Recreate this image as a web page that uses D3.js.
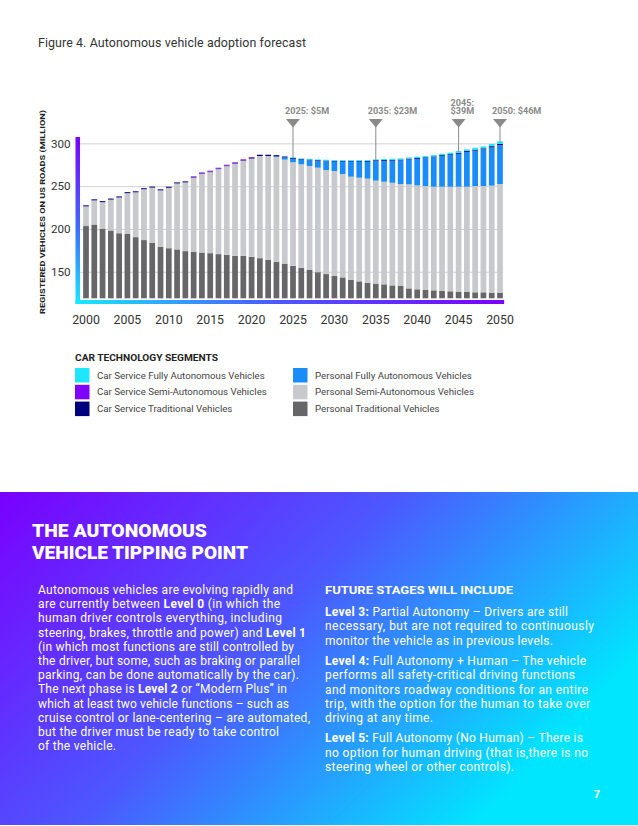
<!DOCTYPE html>
<html>
<head>
<meta charset="utf-8">
<script src="https://cdn.jsdelivr.net/npm/d3@7"></script>
<style>
body { margin: 0; background: #fff; }
svg { display: block; font-family: Roboto, "Open Sans", sans-serif; }
</style>
</head>
<body>
<div id="graphArea"></div>
<script>
var years = [2000, 2001, 2002, 2003, 2004, 2005, 2006, 2007, 2008, 2009,
  2010, 2011, 2012, 2013, 2014, 2015, 2016, 2017, 2018, 2019,
  2020, 2021, 2022, 2023, 2024, 2025, 2026, 2027, 2028, 2029,
  2030, 2031, 2032, 2033, 2034, 2035, 2036, 2037, 2038, 2039,
  2040, 2041, 2042, 2043, 2044, 2045, 2046, 2047, 2048, 2049, 2050]

// millions of vehicles
var personalTrad = [203.4, 205.2, 200.3, 198.2, 195.0, 194.5, 190.4, 187.0, 184.0, 179.1,
  177.5, 176.1, 174.1, 173.3, 172.5, 171.7, 170.6, 169.8, 168.6, 168.6,
  167.4, 165.9, 163.9, 161.5, 159.5, 156.8, 154.6, 152.5, 149.5, 147.3,
  145.4, 143.4, 140.7, 138.8, 137.2, 136.1, 135.3, 134.1, 133.4, 130.6,
  129.5, 128.7, 128.3, 127.5, 127.2, 126.8, 126.4, 126.0, 126.0, 125.6, 125.6]
var personalSemi = [23.0, 28.2, 31.0, 36.1, 41.8, 47.3, 52.4, 59.4, 64.3, 66.0,
  70.6, 77.1, 80.3, 86.5, 91.9, 94.7, 99.3, 103.6, 107.6, 111.1,
  114.8, 119.3, 121.3, 122.7, 121.5, 121.2, 120.9, 121.1, 122.1, 121.6,
  122.3, 120.8, 120.4, 121.1, 121.6, 120.4, 119.9, 119.9, 119.1, 121.5,
  121.4, 121.5, 121.1, 121.9, 122.2, 122.6, 123.0, 124.2, 124.2, 125.0, 126.9]
var personalFull = [0, 0, 0, 0, 0, 0, 0, 0, 0, 0,
  0, 0, 0, 0, 0, 0, 0, 0, 0, 0,
  0, 0, 0, 0.5, 2.5, 3.8, 5.3, 6.7, 8.0, 10.2,
  11.0, 14.5, 17.6, 18.8, 19.7, 22.8, 24.3, 25.8, 27.6, 29.1,
  31.0, 32.5, 34.3, 35.8, 36.9, 38.4, 40.4, 41.3, 42.8, 44.6, 45.3]
var serviceTrad = [1.2, 1.2, 1.2, 1.2, 1.2, 1.2, 1.2, 1.2, 1.2, 1.2,
  1.2, 1.2, 1.2, 0.6, 0.6, 0.6, 0.6, 0.6, 0.6, 0.6,
  1.2, 1.5, 1.5, 1.5, 1.2, 1.0, 0.8, 0.8, 0.8, 0.8,
  0.8, 0.8, 0.8, 0.8, 1.0, 1.0, 1.0, 1.0, 1.0, 1.0,
  1.0, 1.0, 1.0, 1.0, 1.0, 1.2, 1.2, 1.2, 1.2, 1.5, 1.5]
var serviceSemi = [0, 0, 0, 0, 0, 0, 0, 0, 0, 0,
  0, 0, 0, 1.0, 1.0, 1.0, 1.0, 1.0, 1.0, 1.0,
  0.6, 0, 0, 0, 0, 0, 0, 0, 0, 0,
  0, 0, 0, 0, 0, 0, 0, 0, 0, 0,
  0, 0, 0, 0, 0, 0, 0, 0, 0, 0, 0]
var serviceFull = [0, 0, 0, 0, 0, 0, 0, 0, 0, 0,
  0, 0, 0, 0, 0, 0, 0, 0, 0, 0,
  0, 0, 0, 0, 0.3, 0.8, 0.8, 0.9, 0.9, 1.0,
  1.0, 1.0, 1.0, 1.0, 1.0, 1.0, 1.2, 1.2, 1.3, 1.4,
  1.5, 1.5, 1.6, 1.7, 1.8, 2.0, 2.0, 2.2, 2.3, 2.5, 3.0]

var xTicks = [2000, 2005, 2010, 2015, 2020, 2025, 2030, 2035, 2040, 2045, 2050]
var yTicks = [150, 200, 250, 300]

var calloutYears = [2025, 2035, 2045, 2050]
var calloutLabels = [["2025: $5M"], ["2035: $23M"], ["2045:", "$39M"], ["2050: $46M"]]

var keys = ["personalTrad", "personalSemi", "personalFull", "serviceTrad", "serviceSemi", "serviceFull"]
var colors = {
  personalTrad: "#666668",
  personalSemi: "#c8c9cd",
  personalFull: "#198cfa",
  serviceTrad: "#00007e",
  serviceSemi: "#7f00ff",
  serviceFull: "#1ee6fb"
}
var legendCols = [
  [["serviceFull", "Car Service Fully Autonomous Vehicles"],
   ["serviceSemi", "Car Service Semi-Autonomous Vehicles"],
   ["serviceTrad", "Car Service Traditional Vehicles"]],
  [["personalFull", "Personal Fully Autonomous Vehicles"],
   ["personalSemi", "Personal Semi-Autonomous Vehicles"],
   ["personalTrad", "Personal Traditional Vehicles"]]
]

var leftText = [
  "Autonomous vehicles are evolving rapidly and",
  "are currently between *Level 0* (in which the",
  "human driver controls everything, including",
  "steering, brakes, throttle and power) and *Level 1*",
  "(in which most functions are still controlled by",
  "the driver, but some, such as braking or parallel",
  "parking, can be done automatically by the car).",
  "The next phase is *Level 2* or \u201cModern Plus\u201d in",
  "which at least two vehicle functions \u2013 such as",
  "cruise control or lane-centering \u2013 are automated,",
  "but the driver must be ready to take control",
  "of the vehicle."
]
var rightText = [
  ["*Level 3:* Partial Autonomy \u2013 Drivers are still",
   "necessary, but are not required to continuously",
   "monitor the vehicle as in previous levels."],
  ["*Level 4:* Full Autonomy + Human \u2013 The vehicle",
   "performs all safety-critical driving functions",
   "and monitors roadway conditions for an entire",
   "trip, with the option for the human to take over",
   "driving at any time."],
  ["*Level 5:* Full Autonomy (No Human) \u2013 There is",
   "no option for human driving (that is,there is no",
   "steering wheel or other controls)."]
]
// measured line widths (px) for the two text columns
var leftWidths = [255, 242, 244, 268, 256, 262, 261, 249, 251, 272, 241, 78]
var rightWidths = [[243, 269, 228], [261, 250, 263, 265, 108], [258, 263, 189]]

var width = 638
var height = 826

var svg = d3.select("#graphArea")
  .append("svg")
  .attr("width", width)
  .attr("height", height)

var defs = svg.append("defs")
var vg = defs.append("linearGradient").attr("id", "vAxis")
  .attr("x1", 0).attr("y1", 0).attr("x2", 0).attr("y2", 1)
vg.append("stop").attr("offset", 0).attr("stop-color", "#7b00ff")
vg.append("stop").attr("offset", 0.55).attr("stop-color", "#3d6cff")
vg.append("stop").attr("offset", 1).attr("stop-color", "#18e8ff")
var hg = defs.append("linearGradient").attr("id", "hAxis")
  .attr("x1", 0).attr("y1", 0).attr("x2", 1).attr("y2", 0)
hg.append("stop").attr("offset", 0).attr("stop-color", "#18e8ff")
hg.append("stop").attr("offset", 0.45).attr("stop-color", "#4a5cff")
hg.append("stop").attr("offset", 1).attr("stop-color", "#7b00ff")
var pg = defs.append("linearGradient").attr("id", "panel")
  .attr("x1", 0).attr("y1", 0).attr("x2", 1).attr("y2", 0.5)
pg.append("stop").attr("offset", 0).attr("stop-color", "#7a00ff")
pg.append("stop").attr("offset", 0.5).attr("stop-color", "#4c58ff")
pg.append("stop").attr("offset", 1).attr("stop-color", "#00e6ff")

svg.append("text")
  .attr("x", 38).attr("y", 47)
  .attr("font-size", 12.4)
  .attr("fill", "#333")
  .attr("textLength", 268)
  .attr("lengthAdjust", "spacing")
  .text("Figure 4. Autonomous vehicle adoption forecast")

var rows = years.map(function(yr, i) {
  return {
    year: yr,
    personalTrad: personalTrad[i],
    personalSemi: personalSemi[i],
    personalFull: personalFull[i],
    serviceTrad: serviceTrad[i],
    serviceSemi: serviceSemi[i],
    serviceFull: serviceFull[i]
  }
})
var series = d3.stack().keys(keys)(rows)

var step = 8.28
var x = d3.scaleBand()
  .domain(years)
  .range([86 - step / 2, 500 + step / 2])
  .paddingInner(0.31)
  .paddingOuter(0.155)

var y = d3.scaleLinear()
  .domain([119, 310])
  .range([298.3, 134.8])
  .clamp(true)

// gridlines + y labels
var yAxis = svg.append("g")
  .attr("transform", "translate(80,0)")
  .call(d3.axisLeft(y).tickValues(yTicks).tickSize(-423).tickPadding(9.5))
yAxis.select(".domain").remove()
yAxis.selectAll("line").attr("stroke", "#d0d0d0")
yAxis.selectAll("text")
  .attr("font-size", 11.6)
  .attr("font-family", "Roboto, sans-serif")
  .attr("fill", "#333")

svg.append("g")
  .selectAll("g")
  .data(series)
  .enter()
  .append("g")
    .attr("fill", function(d) { return colors[d.key] })
  .selectAll("rect")
  .data(function(d) { return d })
  .enter()
  .append("rect")
    .attr("x", function(d) { return x(d.data.year) })
    .attr("width", x.bandwidth())
    .attr("y", function(d) { return y(d[1]) })
    .attr("height", function(d) { return Math.max(0, y(d[0]) - y(d[1])) })

// gradient axis frame
svg.append("rect")
  .attr("x", 75.5).attr("y", 137)
  .attr("width", 4.5).attr("height", 167)
  .attr("fill", "url(#vAxis)")
svg.append("rect")
  .attr("x", 75.5).attr("y", 300)
  .attr("width", x.range()[1] - 75.5).attr("height", 4)
  .attr("fill", "url(#hAxis)")

var xAxis = svg.append("g")
  .attr("transform", "translate(0,304)")
  .call(d3.axisBottom(x).tickValues(xTicks).tickSize(0).tickPadding(11.5))
xAxis.select(".domain").remove()
xAxis.selectAll("text")
  .attr("font-size", 12.3)
  .attr("font-family", "Roboto, sans-serif")
  .attr("fill", "#333")

svg.append("text")
  .attr("transform", "translate(45,212)rotate(-90)")
  .attr("text-anchor", "middle")
  .attr("font-size", 7.8)
  .attr("font-weight", "bold")
  .attr("fill", "#222")
  .attr("textLength", 204)
  .attr("lengthAdjust", "spacingAndGlyphs")
  .text("REGISTERED VEHICLES ON US ROADS (MILLION)")

// callouts
var totals = {}
rows.forEach(function(r) {
  totals[r.year] = keys.reduce(function(s, k) { return s + r[k] }, 0)
})
var call = svg.append("g")
  .selectAll("g")
  .data(calloutYears)
  .enter()
  .append("g")
    .attr("transform", function(d) { return "translate(" + (x(d) + x.bandwidth() / 2) + ",0)" })
call.append("line")
  .attr("y1", 126).attr("y2", function(d) { return y(totals[d]) + 1 })
  .attr("stroke", "#8a8a8a")
call.append("path")
  .attr("d", "M-7,119L7,119L0,127.5Z")
  .attr("fill", "#8a8a8a")
call.append("text")
  .attr("x", -8)
  .attr("font-size", 9.1)
  .attr("font-weight", "bold")
  .attr("fill", "#8a8a8a")
  .selectAll("tspan")
  .data(function(d, i) { return calloutLabels[i].map(function(t, j, a) { return [t, j, a.length] }) })
  .enter()
  .append("tspan")
    .attr("x", -8)
    .attr("y", function(d) { return 114 - (d[2] - 1 - d[1]) * 8.5 })
    .text(function(d) { return d[0] })

// legend
svg.append("text")
  .attr("x", 75).attr("y", 361)
  .attr("font-size", 8.6)
  .attr("font-weight", "bold")
  .attr("fill", "#222")
  .attr("textLength", 143)
  .attr("lengthAdjust", "spacingAndGlyphs")
  .text("CAR TECHNOLOGY SEGMENTS")

legendCols.forEach(function(col, c) {
  var g = svg.append("g").attr("transform", "translate(" + (c == 0 ? 75 : 293) + ",368)")
  var item = g.selectAll("g")
    .data(col)
    .enter()
    .append("g")
      .attr("transform", function(d, i) { return "translate(0," + (i * 16.8) + ")" })
  item.append("rect")
    .attr("width", 14.5).attr("height", 14.5)
    .attr("fill", function(d) { return colors[d[0]] })
  item.append("text")
    .attr("x", 22).attr("y", 10.5)
    .attr("font-size", 9.7)
    .attr("fill", "#444")
    .text(function(d) { return d[1] })
})

// bottom panel
svg.append("rect")
  .attr("x", 0).attr("y", 492)
  .attr("width", width).attr("height", 333)
  .attr("fill", "url(#panel)")

svg.append("text")
  .attr("x", 32).attr("y", 536.5)
  .attr("font-size", 18.8)
  .attr("font-weight", 900)
  .attr("fill", "#fff")
  .attr("textLength", 175)
  .attr("lengthAdjust", "spacingAndGlyphs")
  .text("THE AUTONOMOUS")
svg.append("text")
  .attr("x", 32).attr("y", 558.5)
  .attr("font-size", 18.8)
  .attr("font-weight", 900)
  .attr("fill", "#fff")
  .attr("textLength", 216)
  .attr("lengthAdjust", "spacingAndGlyphs")
  .text("VEHICLE TIPPING POINT")

function richLine(sel, str) {
  str.split("*").forEach(function(part, i) {
    if(part == "") return
    sel.append("tspan")
      .attr("font-weight", i % 2 == 1 ? "bold" : "normal")
      .text(part)
  })
}

leftText.forEach(function(line, i) {
  var t = svg.append("text")
    .attr("x", 38).attr("y", 594 + i * 14.2)
    .attr("font-size", 12)
    .attr("fill", "#fff")
    .attr("textLength", leftWidths[i])
    .attr("lengthAdjust", "spacing")
  richLine(t, line)
})

svg.append("text")
  .attr("x", 325).attr("y", 594)
  .attr("font-size", 10.6)
  .attr("font-weight", "bold")
  .attr("fill", "#fff")
  .attr("textLength", 188)
  .attr("lengthAdjust", "spacingAndGlyphs")
  .text("FUTURE STAGES WILL INCLUDE")

var ry = 616
rightText.forEach(function(para, p) {
  para.forEach(function(line, i) {
    var t = svg.append("text")
      .attr("x", 325).attr("y", ry)
      .attr("font-size", 12)
      .attr("fill", "#fff")
      .attr("textLength", rightWidths[p][i])
      .attr("lengthAdjust", "spacing")
    richLine(t, line)
    ry += 14.3
  })
  ry += 6
})

svg.append("text")
  .attr("x", 600).attr("y", 798)
  .attr("text-anchor", "end")
  .attr("font-size", 11)
  .attr("font-weight", "bold")
  .attr("fill", "#fff")
  .text("7")
</script>
</body>
</html>
